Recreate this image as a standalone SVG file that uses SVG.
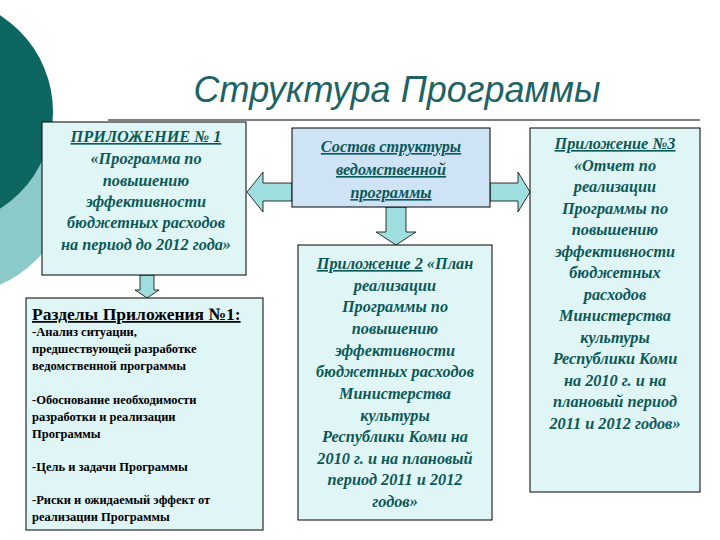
<svg xmlns="http://www.w3.org/2000/svg" width="720" height="540" viewBox="0 0 720 540">
<style>
.box{fill:#e0f6f6;stroke:#000;stroke-width:1}
.arr{fill:#9fdede;stroke:#000;stroke-width:0.8}
.t{font-family:"Liberation Serif",serif;font-style:italic;font-weight:bold;font-size:16.3px;fill:#0b5858;text-anchor:middle}
.s{font-family:"Liberation Serif",serif;font-weight:bold;font-size:12.5px;fill:#000}
</style>
<rect width="720" height="540" fill="#fff"/>
<circle cx="-45" cy="180" r="114" fill="#8ccaca"/>
<circle cx="-62" cy="112" r="115" fill="#0e6660"/>
<text x="397" y="102" font-family="Liberation Sans,sans-serif" font-style="italic" font-size="36" fill="#1e6464" text-anchor="middle">Структура Программы</text>
<line x1="108" y1="120" x2="700" y2="120" stroke="#000" stroke-width="1"/>
<g id="connectors">
<polygon class="arr" points="140,275 154,275 154,290 159,290 147,298 135,290 140,290"/>
<polygon class="arr" points="292,183 263,183 263,172 247,192 263,212 263,201 292,201"/>
<polygon class="arr" points="490,183 518,183 518,172 530,192 518,212 518,201 490,201"/>
<polygon class="arr" points="386,207 406,207 406,232 416,232 396,245 376,232 386,232"/>
</g>
<g id="app1">
<rect class="box" x="42" y="122" width="204" height="153"/>
<text class="t" x="146" y="142" text-decoration="underline">ПРИЛОЖЕНИЕ № 1</text>
<text class="t" x="146" y="164">«Программа по</text>
<text class="t" x="146" y="186">повышению</text>
<text class="t" x="146" y="207">эффективности</text>
<text class="t" x="146" y="228">бюджетных расходов</text>
<text class="t" x="146" y="250">на период до 2012 года»</text>
</g>
<g id="sections">
<rect class="box" x="26" y="298" width="237" height="232"/>
<text x="32" y="320" font-family="Liberation Serif,serif" font-weight="bold" font-size="17.5" text-decoration="underline">Разделы Приложения №1:</text>
<text class="s" x="32" y="336">-Анализ ситуации,</text>
<text class="s" x="32" y="353">предшествующей разработке</text>
<text class="s" x="32" y="370">ведомственной программы</text>
<text class="s" x="32" y="404">-Обоснование  необходимости</text>
<text class="s" x="32" y="421">разработки и реализации</text>
<text class="s" x="32" y="438">Программы</text>
<text class="s" x="32" y="471">-Цель и задачи Программы</text>
<text class="s" x="32" y="504">-Риски и ожидаемый эффект от</text>
<text class="s" x="32" y="521">реализации Программы</text>
</g>
<g id="center">
<rect x="292" y="128" width="198" height="79" fill="#cfe3f6" stroke="#000"/>
<text class="t" x="391" y="152" font-style="normal" font-size="18" text-decoration="underline">Состав структуры</text>
<text class="t" x="391" y="175" font-style="normal" font-size="18" text-decoration="underline">ведомственной</text>
<text class="t" x="391" y="198" font-style="normal" font-size="18" text-decoration="underline">программы</text>
</g>
<g id="app2">
<rect class="box" x="298" y="245" width="194" height="275"/>
<text class="t" x="395" y="269"><tspan text-decoration="underline">Приложение 2</tspan> «План</text>
<text class="t" x="395" y="291">реализации</text>
<text class="t" x="395" y="312">Программы по</text>
<text class="t" x="395" y="334">повышению</text>
<text class="t" x="395" y="356">эффективности</text>
<text class="t" x="395" y="377">бюджетных расходов</text>
<text class="t" x="395" y="399">Министерства</text>
<text class="t" x="395" y="421">культуры</text>
<text class="t" x="395" y="442">Республики Коми на</text>
<text class="t" x="395" y="464">2010 г. и на плановый</text>
<text class="t" x="395" y="485">период 2011 и 2012</text>
<text class="t" x="395" y="507">годов»</text>
</g>
<g id="app3">
<rect class="box" x="530" y="128" width="170" height="364"/>
<text class="t" x="615" y="149" text-decoration="underline">Приложение №3</text>
<text class="t" x="615" y="171">«Отчет по</text>
<text class="t" x="615" y="192">реализации</text>
<text class="t" x="615" y="214">Программы по</text>
<text class="t" x="615" y="235">повышению</text>
<text class="t" x="615" y="257">эффективности</text>
<text class="t" x="615" y="278">бюджетных</text>
<text class="t" x="615" y="300">расходов</text>
<text class="t" x="615" y="321">Министерства</text>
<text class="t" x="615" y="343">культуры</text>
<text class="t" x="615" y="364">Республики Коми</text>
<text class="t" x="615" y="386">на 2010 г. и на</text>
<text class="t" x="615" y="407">плановый период</text>
<text class="t" x="615" y="429">2011 и 2012 годов»</text>
</g>
</svg>
